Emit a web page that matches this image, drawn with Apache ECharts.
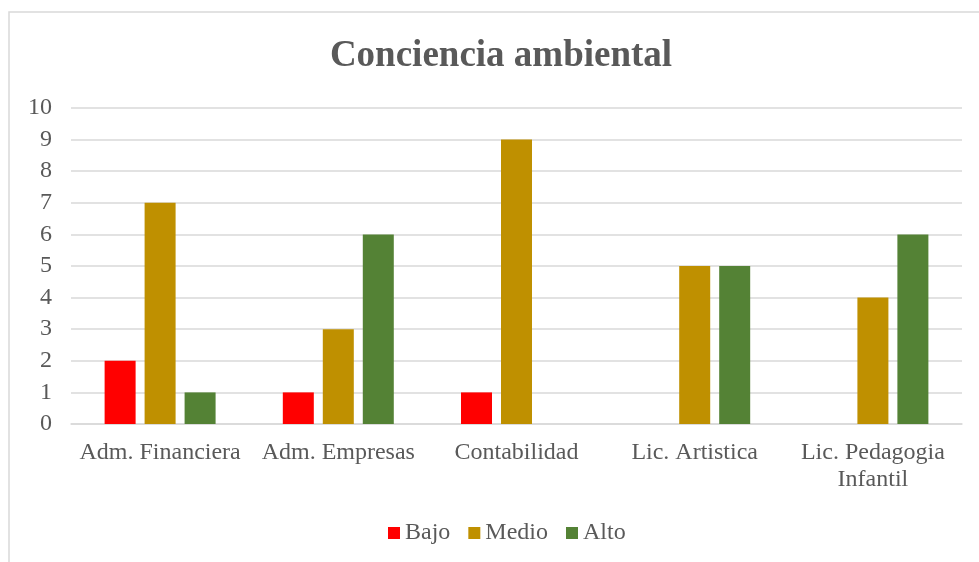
<!DOCTYPE html>
<html>
<head>
<meta charset="utf-8">
<script src="https://cdn.jsdelivr.net/npm/echarts@6/dist/echarts.min.js"></script>
<style>
  html, body { margin: 0; padding: 0; background: #fff; }
  #chart { width: 979px; height: 562px; }
</style>
</head>
<body>
<div id="chart"></div>
<script>
const categories = ['Adm. Financiera', 'Adm. Empresas', 'Contabilidad', 'Lic. Artistica', 'Lic. Pedagogia\nInfantil'];
const bajo = [2, 1, 1, null, null];
const medio = [7, 3, 9, 5, 4];
const alto = [1, 6, null, 5, 6];

const FONT = '"Liberation Serif", "Times New Roman", serif';
const TEXT = '#595959';

const chart = echarts.init(document.getElementById('chart'), null, { renderer: 'canvas' });

const bar = (name, data, color) => ({
  name,
  type: 'bar',
  data,
  barWidth: 31,
  barGap: '29%',
  itemStyle: { color },
  emphasis: { disabled: true }
});

chart.setOption({
  animation: false,
  graphic: [{
    type: 'rect',
    shape: { x: 9, y: 12, width: 1000, height: 600 },
    style: { fill: 'none', stroke: '#d9d9d9', lineWidth: 1.5 },
    silent: true
  }],
  title: {
    text: 'Conciencia ambiental',
    left: 496,
    textAlign: 'center',
    top: 33,
    textStyle: { fontFamily: FONT, fontSize: 37, fontWeight: 'bold', color: TEXT }
  },
  legend: {
    top: 516,
    left: 383,
    itemWidth: 12,
    itemHeight: 12,
    itemGap: 18,
    icon: 'rect',
    textStyle: { fontFamily: FONT, fontSize: 24, color: TEXT }
  },
  grid: { left: 71, right: 17, top: 108, bottom: 138 },
  xAxis: {
    type: 'category',
    data: categories,
    axisLine: { lineStyle: { color: '#d9d9d9', width: 1.5 } },
    axisTick: { show: false },
    axisLabel: { fontFamily: FONT, fontSize: 24, color: TEXT, margin: 15, lineHeight: 27, interval: 0 }
  },
  yAxis: {
    type: 'value',
    min: 0,
    max: 10,
    interval: 1,
    axisLine: { show: false },
    axisTick: { show: false },
    splitLine: { lineStyle: { color: '#d9d9d9', width: 1.5 } },
    axisLabel: { fontFamily: FONT, fontSize: 24, color: TEXT, margin: 19 }
  },
  series: [
    bar('Bajo', bajo, '#ff0000'),
    bar('Medio', medio, '#bf9000'),
    bar('Alto', alto, '#548235')
  ]
});
</script>
</body>
</html>
